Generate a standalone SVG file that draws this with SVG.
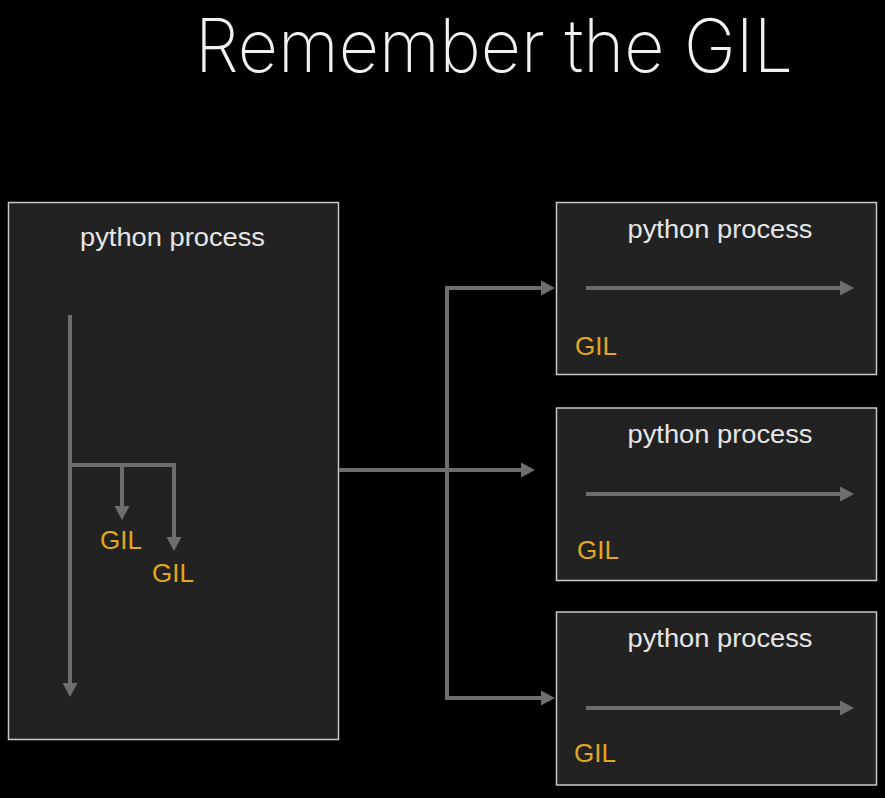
<svg xmlns="http://www.w3.org/2000/svg" width="885" height="798" viewBox="0 0 885 798">
<defs>
<style>
.box{fill:#222222;stroke:#c8c8c8;stroke-width:1.5}
.lbl{font-family:"Liberation Sans",Arial,sans-serif;font-size:26px;fill:#e6e6e6;text-anchor:middle}
.gil{font-family:"Liberation Sans",Arial,sans-serif;font-size:26px;fill:#e0a81e}
.ln{fill:none;stroke:#6e6e6e;stroke-width:4;stroke-linejoin:miter;marker-end:url(#ah)}
</style>
<marker id="ah" markerUnits="userSpaceOnUse" markerWidth="14" markerHeight="16" refX="0" refY="7.5" orient="auto" viewBox="0 0 14 15">
<path d="M0,0 L14,7.5 L0,15 z" fill="#6e6e6e"/>
</marker>
</defs>
<rect width="885" height="798" fill="#000"/>
<text x="494" y="72" font-family="Inter,'Liberation Sans',sans-serif" font-weight="200" font-size="74" fill="#f2f2f2" text-anchor="middle" textLength="598" lengthAdjust="spacingAndGlyphs">Remember the GIL</text>

<g id="main-process">
<rect class="box" x="8.5" y="202.5" width="330" height="537"/>
<text class="lbl" x="172.5" y="246" textLength="185" lengthAdjust="spacingAndGlyphs">python process</text>
<text class="gil" x="100" y="549">GIL</text>
<text class="gil" x="152" y="582">GIL</text>
</g>

<g id="process-1">
<rect class="box" x="556.5" y="202.5" width="320" height="172"/>
<text class="lbl" x="720" y="238" textLength="185" lengthAdjust="spacingAndGlyphs">python process</text>
<text class="gil" x="575" y="355">GIL</text>
</g>

<g id="process-2">
<rect class="box" x="556.5" y="408" width="320" height="172.5"/>
<text class="lbl" x="720" y="443" textLength="185" lengthAdjust="spacingAndGlyphs">python process</text>
<text class="gil" x="577" y="559">GIL</text>
</g>

<g id="process-3">
<rect class="box" x="556.5" y="612" width="320" height="173"/>
<text class="lbl" x="720" y="647" textLength="185" lengthAdjust="spacingAndGlyphs">python process</text>
<text class="gil" x="574" y="762">GIL</text>
</g>

<g id="connectors">
<path class="ln" d="M70,315 V683"/>
<path class="ln" d="M70,465 H174 V537"/>
<path class="ln" d="M122,465 V506"/>
<path class="ln" d="M339,470 H521"/>
<path class="ln" d="M447,470 V288 H541"/>
<path class="ln" d="M447,470 V698 H541"/>
<path class="ln" d="M586,288 H840"/>
<path class="ln" d="M586,494 H840"/>
<path class="ln" d="M586,708 H840"/>
</g>
</svg>
